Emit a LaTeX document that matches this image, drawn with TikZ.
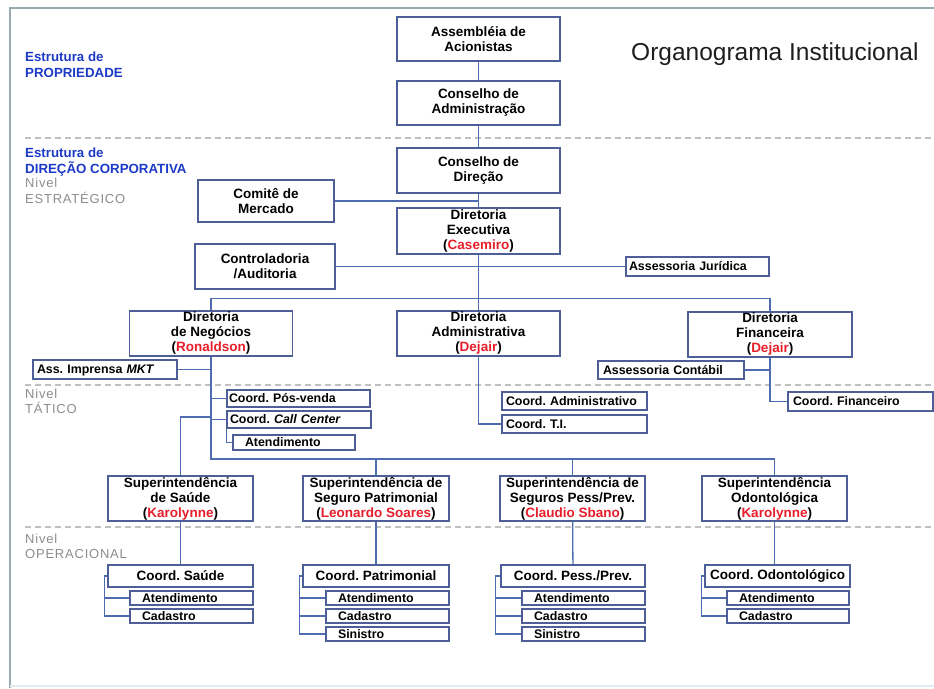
\documentclass[tikz,border=0pt]{standalone}
\usepackage{fontspec}
\setmainfont{Liberation Sans}
\newfontfamily\grayfont[LetterSpace=6]{Liberation Sans}
\usetikzlibrary{calc}
\definecolor{boxc}{RGB}{78,94,150}
\definecolor{linec}{RGB}{78,108,175}
\definecolor{redc}{RGB}{232,30,42}
\definecolor{bluec}{RGB}{28,58,200}
\definecolor{grayc}{RGB}{140,140,140}
\definecolor{dashc}{RGB}{192,192,192}
\definecolor{framec}{RGB}{150,170,176}
\newcommand\nm[1]{\textcolor{redc}{#1}}
\frenchspacing
\begin{document}
\begin{tikzpicture}[x=1pt,y=-1pt,
  box/.style={draw=boxc, line width=1.3pt, fill=white, inner sep=0pt, align=center,
    font=\bfseries\fontsize{13.5}{15}\selectfont},
  lbox/.style={draw=boxc, line width=1.3pt, fill=white, inner ysep=0pt, align=left,
    text height=10pt, text depth=1.5pt, font=\bfseries\fontsize{12.4}{14}\selectfont},
  conn/.style={draw=linec, line width=1.3pt},
  sep/.style={draw=dashc, line width=1.2pt, dash pattern=on 6pt off 4pt},
  bluel/.style={anchor=base west, inner sep=0pt, text=bluec, font=\bfseries\fontsize{13.3}{15}\selectfont},
  grayl/.style={anchor=base west, inner sep=0pt, text=grayc, font=\grayfont\fontsize{13}{15}\selectfont}]
\useasboundingbox (0,0) rectangle (934,688);
% frame
\draw[framec, line width=2pt] (10,688) -- (10,8) -- (934,8);
\draw[color={rgb,255:red,225;green,234;blue,240}, line width=2pt] (10,686) -- (934,686);
% level separators
\draw[sep] (25,138) -- (934,138);
\draw[sep] (25,385) -- (934,385);
\draw[sep] (25,527) -- (934,527);
% left labels
\node[bluel] (l1) at (25,61) {Estrutura de};
\node[bluel] (l2) at (25,77) {PROPRIEDADE};
\node[bluel] (l3) at (25,157) {Estrutura de};
\node[bluel] (l4) at (25,173) {DIREÇÃO CORPORATIVA};
\node[grayl] (l5) at (25,187) {Nivel};
\node[grayl] (l6) at (25,203) {ESTRATÉGICO};
\node[grayl] (l7) at (25,398) {Nivel};
\node[grayl] (l8) at (25,413) {TÁTICO};
\node[grayl] (l9) at (25,543) {Nivel};
\node[grayl] (l10) at (25,558) {OPERACIONAL};
% title
\node[anchor=base west, inner sep=0pt, font=\fontsize{24.5}{28}\selectfont, text={rgb,255:red,30;green,30;blue,30}] (title) at (631,60) {Organograma Institucional};
% strategic
\node[box, minimum width=163, minimum height=44] (asm) at (478.5,39) {Assembléia de\\Acionistas};
\node[box, minimum width=163, minimum height=44] (cadm) at (478.5,103) {Conselho de\\Administração};
\node[box, minimum width=163, minimum height=45] (cdir) at (478.5,170.5) {Conselho de\\Direção};
\node[box, minimum width=163, minimum height=46] (dexe) at (478.5,231) {Diretoria\\Executiva\\(\nm{Casemiro})};
\node[box, minimum width=136, minimum height=42] (com) at (266,201) {Comitê de\\Mercado};
\node[box, minimum width=140, minimum height=45] (ctrl) at (265,266.5) {Controladoria\\/Auditoria};
\node[lbox, text width=137, inner xsep=3, minimum height=19] (jur) at (697.5,266.5) {Assessoria Jurídica};
\node[box, minimum width=163, minimum height=45] (dneg) at (211,333.5) {Diretoria\\de Negócios\\(\nm{Ronaldson})};
\node[box, minimum width=163, minimum height=45] (dadm) at (478.5,333.5) {Diretoria\\Administrativa\\(\nm{Dejair})};
\node[box, minimum width=164, minimum height=45] (dfin) at (770,334.5) {Diretoria\\Financeira\\(\nm{Dejair})};
\node[lbox, text width=136, inner xsep=4, minimum height=19] (imp) at (105,369.5) {Ass. Imprensa \textit{MKT}};
\node[lbox, text width=136, inner xsep=5, minimum height=18] (cont) at (671,370) {Assessoria Contábil};
% tactical
\node[lbox, text width=139, inner xsep=2, minimum height=17] (pos) at (298.5,398.5) {Coord. Pós-venda};
\node[lbox, text width=138, inner xsep=3, minimum height=17] (call) at (299,419.5) {Coord. \textit{Call Center}};
\node[lbox, text width=98, inner xsep=12, minimum height=15] (aten0) at (294,442.5) {Atendimento};
\node[lbox, text width=137, inner xsep=4, minimum height=18] (cadmv) at (574.5,401) {Coord. Administrativo};
\node[lbox, text width=137, inner xsep=4, minimum height=18] (cti) at (574.5,424) {Coord. T.I.};
\node[lbox, text width=135, inner xsep=5, minimum height=19] (cfin) at (860.5,401.5) {Coord. Financeiro};
% superintendencies
\node[box, minimum width=145, minimum height=45] (ssau) at (180.5,498.5) {Superintendência\\de Saúde\\(\nm{Karolynne})};
\node[box, minimum width=146, minimum height=45] (spat) at (376,498.5) {Superintendência de\\Seguro Patrimonial\\(\nm{Leonardo Soares})};
\node[box, minimum width=145, minimum height=45] (spes) at (572.5,498.5) {Superintendência de\\Seguros Pess/Prev.\\(\nm{Claudio Sbano})};
\node[box, minimum width=145, minimum height=45] (sodo) at (774.5,498.5) {Superintendência\\Odontológica\\(\nm{Karolynne})};
% operational
\node[box, minimum width=145, minimum height=22] (csau) at (180.5,576) {Coord. Saúde};
\node[box, minimum width=146, minimum height=22] (cpat) at (376,576) {Coord. Patrimonial};
\node[box, minimum width=144, minimum height=22] (cpes) at (573,576) {Coord. Pess./Prev.};
\node[box, minimum width=145, minimum height=22] (codo) at (777.5,576) {Coord. Odontológico};
\node[lbox, text width=99, inner xsep=12, minimum height=14] (atnS) at (191.5,598) {Atendimento};
\node[lbox, text width=99, inner xsep=12, minimum height=14] (cadS) at (191.5,616) {Cadastro};
\node[lbox, text width=99, inner xsep=12, minimum height=14] (atnP) at (387.5,598) {Atendimento};
\node[lbox, text width=99, inner xsep=12, minimum height=14] (cadP) at (387.5,616) {Cadastro};
\node[lbox, text width=99, inner xsep=12, minimum height=14] (sinP) at (387.5,634) {Sinistro};
\node[lbox, text width=99, inner xsep=12, minimum height=14] (atnE) at (583.5,598) {Atendimento};
\node[lbox, text width=99, inner xsep=12, minimum height=14] (cadE) at (583.5,616) {Cadastro};
\node[lbox, text width=99, inner xsep=12, minimum height=14] (sinE) at (583.5,634) {Sinistro};
\node[lbox, text width=98, inner xsep=12, minimum height=14] (atnO) at (788,598) {Atendimento};
\node[lbox, text width=98, inner xsep=12, minimum height=14] (cadO) at (788,616) {Cadastro};
% connectors: top
\draw[conn] (asm) -- (cadm);
\draw[conn] (cadm) -- (cdir);
\draw[conn] (cdir) -- (dexe);
\draw[conn] (com.east) -- (com.east -| cdir.south);
\draw[conn] (ctrl.east) -- (jur.west);
\draw[conn] (dexe.south) -- (dadm.north);
\draw[conn] (dneg.north) -- ++(0,-12) -| (dfin.north);
% Diretoria de Negocios branch
\draw[conn] (imp.east) -- (imp.east -| dneg.south);
\coordinate (b2) at (211,459);
\coordinate (k1) at (211,417);
\draw[conn] (dneg.south) -- (b2) -| (sodo.north);
\draw[conn] (b2 -| spat.north) -- (spat.north);
\draw[conn] (b2 -| spes.north) -- (spes.north);
\draw[conn] (pos.west -| dneg.south) -- (pos.west);
\draw[conn] (call.west -| dneg.south) -- (call.west);
\draw[conn] (call.south west) |- (aten0.west);
\draw[conn] (k1) -| (ssau.north);
% administrative and financial
\draw[conn] (dadm.south) |- (cti.west);
\draw[conn] (dfin.south) |- (cfin.west);
\draw[conn] (cont.east) -- (cont.east -| dfin.south);
% superintendency to coordination
\draw[conn] (ssau) -- (csau);
\draw[conn] (spat) -- (cpat);
\draw[conn] (spes) -- (cpes);
\draw[conn] (sodo.south) -- (sodo.south |- codo.north);
% brackets
\draw[conn] (csau.west) -- ++(-3,0) coordinate (bS) |- (cadS.west);
\draw[conn] (bS |- atnS.west) -- (atnS.west);
\draw[conn] (cpat.west) -- ++(-3,0) coordinate (bP) |- (sinP.west);
\draw[conn] (bP |- atnP.west) -- (atnP.west);
\draw[conn] (bP |- cadP.west) -- (cadP.west);
\draw[conn] (cpes.west) -- ++(-5,0) coordinate (bE) |- (sinE.west);
\draw[conn] (bE |- atnE.west) -- (atnE.west);
\draw[conn] (bE |- cadE.west) -- (cadE.west);
\draw[conn] (codo.west) -- ++(-3,0) coordinate (bO) |- (cadO.west);
\draw[conn] (bO |- atnO.west) -- (atnO.west);
\end{tikzpicture}
\end{document}
